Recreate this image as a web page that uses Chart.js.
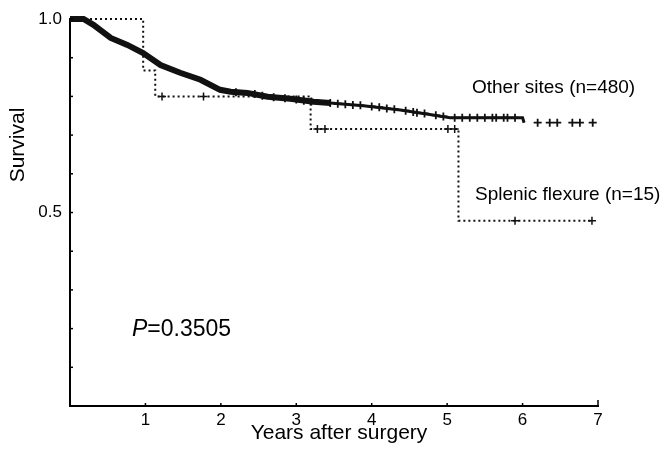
<!DOCTYPE html>
<html>
<head>
<meta charset="utf-8">
<script src="https://cdn.jsdelivr.net/npm/chart.js@4.4.1/dist/chart.umd.min.js"></script>
<style>
  html, body { margin: 0; padding: 0; background: #fff; }
  #wrap { width: 665px; height: 452px; position: relative; }
</style>
</head>
<body>
<div id="wrap"><canvas id="km"></canvas></div>
<script>
// Kaplan-Meier readings (years, survival)
const otherTimes = [0, 0.18, 0.31, 0.54, 0.76, 0.97, 1.2, 1.46, 1.73, 1.99, 2.13, 2.35, 2.62, 2.92, 3.23, 3.45, 3.89, 4.38, 4.77, 5.04, 6.0, 6.02];
const otherSurv = [1.0, 1.0, 0.985, 0.951, 0.933, 0.912, 0.881, 0.861, 0.843, 0.817, 0.812, 0.809, 0.799, 0.794, 0.786, 0.783, 0.776, 0.765, 0.753, 0.745, 0.745, 0.732];

const otherCensorT = [2.2, 2.45, 2.55, 2.7, 2.85, 3.0, 3.1, 3.2, 3.45, 3.55, 3.65, 3.75, 3.85, 4.0, 4.1, 4.2, 4.3, 4.45, 4.55, 4.6, 4.7, 4.85, 4.95, 5.1, 5.2, 5.3, 5.4, 5.5, 5.6, 5.65, 5.75, 5.8, 5.9, 6.2, 6.36, 6.46, 6.66, 6.76, 6.93];
const otherCensorS = [0.811, 0.806, 0.802, 0.798, 0.795, 0.792, 0.789, 0.787, 0.783, 0.781, 0.780, 0.778, 0.777, 0.774, 0.772, 0.769, 0.767, 0.763, 0.760, 0.758, 0.756, 0.751, 0.748, 0.745, 0.745, 0.745, 0.745, 0.745, 0.745, 0.745, 0.745, 0.745, 0.745, 0.732, 0.732, 0.732, 0.732, 0.732, 0.732];

const splenicTimes = [0, 0.97, 1.13, 3.19, 5.15, 6.92];
const splenicSurv = [1.0, 0.867, 0.8, 0.716, 0.479, 0.479];

const splenicCensorT = [1.22, 1.77, 3.28, 3.38, 5.01, 5.1, 5.9, 6.92];
const splenicCensorS = [0.8, 0.8, 0.716, 0.716, 0.716, 0.716, 0.479, 0.479];

const yearTicks = [1, 2, 3, 4, 5, 6, 7];
const survLabels = ['0.5', '1.0'];

const toXY = (xs, ys) => xs.map((x, i) => ({ x: x, y: ys[i] }));

const FONT = '"Liberation Sans", Arial, Helvetica, sans-serif';

const annotate = {
  id: 'annotate',
  afterDraw(chart) {
    const ctx = chart.ctx;
    const xs = chart.scales.x;
    const ys = chart.scales.y;
    ctx.save();
    // inward tick marks
    ctx.strokeStyle = '#000';
    ctx.lineWidth = 1.5;
    for (let v = 1; v <= 10; v++) {
      const py = ys.getPixelForValue(v / 10);
      ctx.beginPath();
      ctx.moveTo(xs.left, py);
      ctx.lineTo(xs.left + 3, py);
      ctx.stroke();
    }
    yearTicks.forEach((yr) => {
      const px = xs.getPixelForValue(yr);
      ctx.beginPath();
      ctx.moveTo(px, ys.bottom);
      ctx.lineTo(px, ys.bottom - (yr === 7 ? 6 : 3));
      ctx.stroke();
    });

    ctx.fillStyle = '#000';
    ctx.textBaseline = 'middle';
    ctx.textAlign = 'left';
    ctx.font = '19px ' + FONT;
    ctx.fillText('Other sites (n=480)', 472, 88);
    ctx.fillText('Splenic flexure (n=15)', 475, 195);

    ctx.font = 'italic 23px ' + FONT;
    ctx.fillText('P', 132, 330);
    const pw = ctx.measureText('P').width;
    ctx.font = '23px ' + FONT;
    ctx.fillText('=0.3505', 132 + pw, 330);

    ctx.textAlign = 'center';
    ctx.font = '21px ' + FONT;
    ctx.fillText('Years after surgery', 339, 433);

    ctx.translate(18, 145);
    ctx.rotate(-Math.PI / 2);
    ctx.font = '21px ' + FONT;
    ctx.fillText('Survival', 0, 0);
    ctx.restore();
  }
};

new Chart(document.getElementById('km'), {
  type: 'scatter',
  plugins: [annotate],
  data: {
    datasets: [
      {
        label: 'Other sites',
        data: toXY(otherTimes, otherSurv),
        showLine: true,
        borderColor: '#111',
        borderWidth: 2,
        segment: {
          borderWidth: (c) => c.p0.parsed.x < 3.3 ? 6 : 3
        },
        pointRadius: 0,
        tension: 0,
        clip: false
      },
      {
        label: 'Other sites censored',
        data: toXY(otherCensorT, otherCensorS),
        showLine: false,
        pointStyle: 'crossRot',
        rotation: 45,
        pointRadius: 4,
        borderColor: '#111',
        borderWidth: 1.8
      },
      {
        label: 'Splenic flexure',
        data: toXY(splenicTimes, splenicSurv),
        showLine: true,
        stepped: 'before',
        borderColor: '#111',
        borderWidth: 2,
        borderDash: [2, 3],
        pointRadius: 0,
        clip: false
      },
      {
        label: 'Splenic flexure censored',
        data: toXY(splenicCensorT, splenicCensorS),
        showLine: false,
        pointStyle: 'crossRot',
        rotation: 45,
        pointRadius: 4,
        borderColor: '#111',
        borderWidth: 1.5
      }
    ]
  },
  options: {
    responsive: true,
    maintainAspectRatio: false,
    animation: false,
    layout: { padding: { left: 0, top: 19, right: 67, bottom: 0 } },
    plugins: {
      legend: { display: false },
      tooltip: { enabled: false }
    },
    scales: {
      x: {
        type: 'linear',
        min: 0,
        max: 7,
        afterFit: (s) => { s.height = 46; },
        afterBuildTicks: (s) => { s.ticks = [0].concat(yearTicks).map((v) => ({ value: v })); },
        grid: { display: false },
        border: { display: true, color: '#000', width: 2 },
        ticks: {
          color: '#000',
          padding: -4,
          font: { family: FONT, size: 17 },
          callback: (v) => v === 0 ? '' : String(v)
        }
      },
      y: {
        type: 'linear',
        min: 0,
        max: 1,
        afterFit: (s) => { s.width = 70; },
        grid: { display: false },
        border: { display: true, color: '#000', width: 2 },
        ticks: {
          stepSize: 0.1,
          color: '#000',
          padding: 0,
          font: { family: FONT, size: 17 },
          callback: (v) => {
            const s = Number(v).toFixed(1);
            return survLabels.includes(s) ? s : '';
          }
        }
      }
    }
  }
});
</script>
</body>
</html>
